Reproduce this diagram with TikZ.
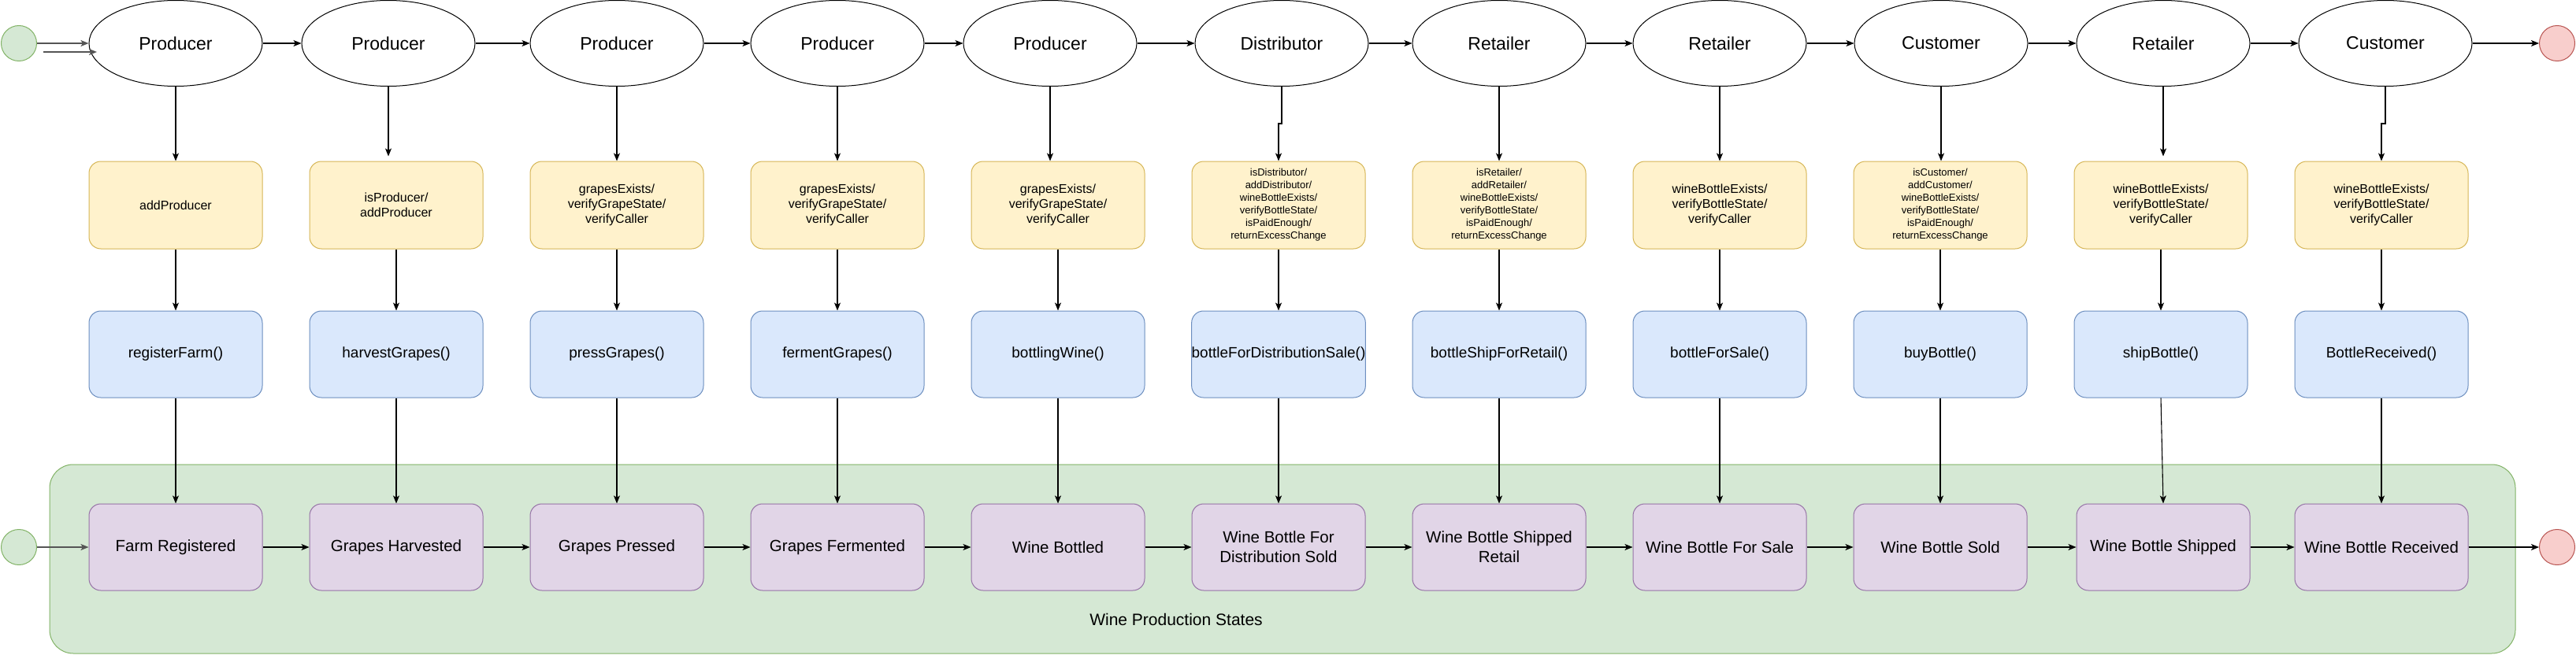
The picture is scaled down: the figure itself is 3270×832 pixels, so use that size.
\documentclass[tikz,border=0pt]{standalone}
\usepackage{fontspec}
\setmainfont{Liberation Sans}
\usetikzlibrary{shapes.geometric,arrows.meta}
\definecolor{yfill}{HTML}{FFF2CC}\definecolor{ydraw}{HTML}{D6B656}
\definecolor{bfill}{HTML}{DAE8FC}\definecolor{bdraw}{HTML}{6C8EBF}
\definecolor{pfill}{HTML}{E1D5E7}\definecolor{pdraw}{HTML}{9673A6}
\definecolor{gfill}{HTML}{D5E8D4}\definecolor{gdraw}{HTML}{82B366}
\definecolor{rfill}{HTML}{F8CECC}\definecolor{rdraw}{HTML}{B85450}
\definecolor{startgray}{HTML}{555555}
\tikzset{
  actor/.style={ellipse, draw=black, line width=1pt, fill=white, minimum width=220pt, minimum height=109pt, inner sep=0pt, font=\fontsize{23}{27}\selectfont},
  checkbox/.style={rectangle, rounded corners=15pt, draw=ydraw, fill=yfill, line width=1pt, minimum width=220pt, minimum height=111pt, inner sep=0pt, align=center, font=\fontsize{16}{18.7}\selectfont},
  checksmall/.style={checkbox, font=\fontsize{13}{16}\selectfont},
  funcbox/.style={rectangle, rounded corners=15pt, draw=bdraw, fill=bfill, line width=1pt, minimum width=220pt, minimum height=110pt, inner sep=0pt, align=center, font=\fontsize{19}{23}\selectfont},
  statebox/.style={rectangle, rounded corners=15pt, draw=pdraw, fill=pfill, line width=1pt, minimum width=220pt, minimum height=110pt, inner sep=0pt, align=center, font=\fontsize{20.5}{25}\selectfont},
  startdot/.style={circle, draw=gdraw, fill=gfill, line width=1pt, minimum size=45pt, inner sep=0pt},
  enddot/.style={circle, draw=rdraw, fill=rfill, line width=1pt, minimum size=45pt, inner sep=0pt},
  arr/.style={-{Stealth[length=10pt,width=8pt,inset=2.5pt]}, line width=1.1pt, draw=black},
  startarr/.style={-{Stealth[length=10pt,width=8pt,inset=2.5pt]}, line width=1.6pt, draw=startgray},
}
\begin{document}
\begin{tikzpicture}[x=1pt,y=-1pt]
\useasboundingbox[fill=white] (0,0) rectangle (3270,832);
% container
\node[draw=gdraw, fill=gfill, line width=1pt, rounded corners=30pt, minimum width=3130pt, minimum height=240pt, inner sep=0pt] (cont) at (1628,710) {};
\node[font=\fontsize{21}{25}\selectfont, anchor=center] (contlabel) at (1493,787) {Wine Production States};

% actors (top row)
\node[startdot] (s1) at (24,55) {};
\node[actor] (e1) at (223,55) {Producer};
\node[actor] (e2) at (493,55) {Producer};
\node[actor] (e3) at (783,55) {Producer};
\node[actor] (e4) at (1063,55) {Producer};
\node[actor] (e5) at (1333,55) {Producer};
\node[actor] (e6) at (1627,55) {Distributor};
\node[actor] (e7) at (1903,55) {Retailer};
\node[actor] (e8) at (2183,55) {Retailer};
\node[actor] (e9) at (2464,55) {Customer};
\node[actor] (e10) at (2746,55) {Retailer};
\node[actor] (e11) at (3028,55) {Customer};
\node[enddot] (f1) at (3246,55) {};

% checks
\node[checkbox] (y1) at (223,260.5) {addProducer};
\node[checkbox] (y2) at (503,260.5) {isProducer/\\addProducer};
\node[checkbox] (y3) at (783,260.5) {grapesExists/\\verifyGrapeState/\\verifyCaller};
\node[checkbox] (y4) at (1063,260.5) {grapesExists/\\verifyGrapeState/\\verifyCaller};
\node[checkbox] (y5) at (1343,260.5) {grapesExists/\\verifyGrapeState/\\verifyCaller};
\node[checksmall] (y6) at (1623,260.5) {isDistributor/\\addDistributor/\\wineBottleExists/\\verifyBottleState/\\isPaidEnough/\\returnExcessChange};
\node[checksmall] (y7) at (1903,260.5) {isRetailer/\\addRetailer/\\wineBottleExists/\\verifyBottleState/\\isPaidEnough/\\returnExcessChange};
\node[checkbox] (y8) at (2183,260.5) {wineBottleExists/\\verifyBottleState/\\verifyCaller};
\node[checksmall] (y9) at (2463,260.5) {isCustomer/\\addCustomer/\\wineBottleExists/\\verifyBottleState/\\isPaidEnough/\\returnExcessChange};
\node[checkbox] (y10) at (2743,260.5) {wineBottleExists/\\verifyBottleState/\\verifyCaller};
\node[checkbox] (y11) at (3023,260.5) {wineBottleExists/\\verifyBottleState/\\verifyCaller};

% functions
\node[funcbox] (b1) at (223,450) {registerFarm()};
\node[funcbox] (b2) at (503,450) {harvestGrapes()};
\node[funcbox] (b3) at (783,450) {pressGrapes()};
\node[funcbox] (b4) at (1063,450) {fermentGrapes()};
\node[funcbox] (b5) at (1343,450) {bottlingWine()};
\node[funcbox] (b6) at (1623,450) {bottleForDistributionSale()};
\node[funcbox] (b7) at (1903,450) {bottleShipForRetail()};
\node[funcbox] (b8) at (2183,450) {bottleForSale()};
\node[funcbox] (b9) at (2463,450) {buyBottle()};
\node[funcbox] (b10) at (2743,450) {shipBottle()};
\node[funcbox] (b11) at (3023,450) {BottleReceived()};

% states
\node[startdot] (s2) at (24,695) {};
\node[statebox] (p1) at (223,695) {Farm Registered};
\node[statebox] (p2) at (503,695) {Grapes Harvested};
\node[statebox] (p3) at (783,695) {Grapes Pressed};
\node[statebox] (p4) at (1063,695) {Grapes Fermented};
\node[statebox] (p5) at (1343,695) {Wine Bottled};
\node[statebox] (p6) at (1623,695) {Wine Bottle For\\Distribution Sold};
\node[statebox] (p7) at (1903,695) {Wine Bottle Shipped\\Retail};
\node[statebox] (p8) at (2183,695) {Wine Bottle For Sale};
\node[statebox] (p9) at (2463,695) {Wine Bottle Sold};
\node[statebox] (p10) at (2746,695) {Wine Bottle Shipped};
\node[statebox] (p11) at (3023,695) {Wine Bottle Received};
\node[enddot] (f2) at (3246,695) {};

% start arrows
\coordinate (sa) at (55,66);
\coordinate (sb) at (123,66);
\draw[startarr] (s1.east) -- (e1.west);
\draw[startarr] (sa) -- (sb);
\draw[startarr] (s2.east) -- (p1.west);

% top row arrows
\foreach \a/\b in {e1/e2,e2/e3,e3/e4,e4/e5,e5/e6,e6/e7,e7/e8,e8/e9,e9/e10,e10/e11}
  \draw[arr] (\a.east) -- (\b.west);
\draw[arr] (e11.east) -- (f1.west);

% actor -> check arrows
\foreach \i in {1,3,4,5,7,8,9}
  \draw[arr] (e\i.south) -- (e\i.south |- y\i.north);
\draw[arr, shorten >=6pt] (e2.south) -- (e2.south |- y2.north);
\draw[arr, shorten >=6pt] (e10.south) -- (e10.south |- y10.north);
\draw[arr] (e6.south) -- ++(0,47) -| (y6.north);
\draw[arr] (e11.south) -- ++(0,47) -| (y11.north);

% check -> function -> state
\foreach \i in {1,...,11}
  \draw[arr] (y\i.south) -- (b\i.north);
\foreach \i in {1,...,11}
  \draw[arr] (b\i.south) -- (p\i.north);

% state row arrows
\foreach \a/\b in {p1/p2,p2/p3,p3/p4,p4/p5,p5/p6,p6/p7,p7/p8,p8/p9,p9/p10,p10/p11}
  \draw[arr] (\a.east) -- (\b.west);
\draw[arr] (p11.east) -- (f2.west);
\end{tikzpicture}
\end{document}
